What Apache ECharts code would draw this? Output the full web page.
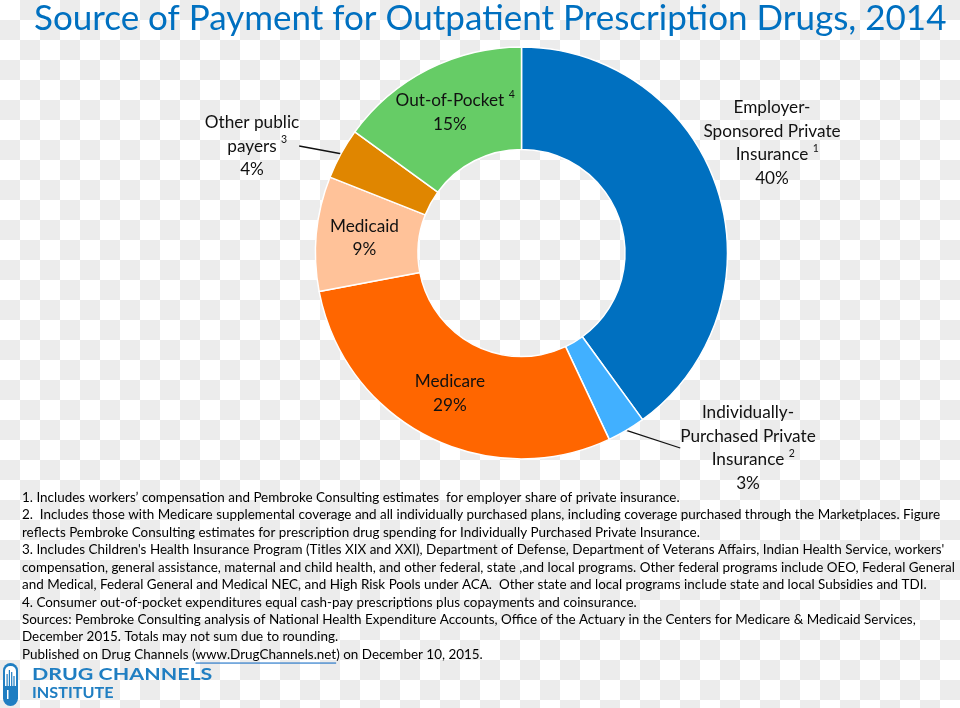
<!DOCTYPE html>
<html>
<head>
<meta charset="utf-8">
<script src="https://cdn.jsdelivr.net/npm/echarts@6/dist/echarts.min.js"></script>
<style>
  html, body { margin: 0; padding: 0; width: 960px; height: 708px; overflow: hidden; }
  body {
    background-color: #ffffff;
    background-image: conic-gradient(#ececec 25%, transparent 0 50%, #ececec 0 75%, transparent 0);
    background-size: 40px 40px;
  }
  #chart { width: 960px; height: 708px; }
</style>
</head>
<body>
<div id="chart"></div>
<script>
// ---- Data ----
const titleText = 'Source of Payment for Outpatient Prescription Drugs, 2014';
const categories = [
  'Employer-Sponsored Private Insurance',
  'Individually-Purchased Private Insurance',
  'Medicare',
  'Medicaid',
  'Other public payers',
  'Out-of-Pocket'
];
const values = [40, 3, 29, 9, 4, 15];
const labelLines = [
  ['Employer-', 'Sponsored Private', 'Insurance'],
  ['Individually-', 'Purchased Private', 'Insurance'],
  ['Medicare'],
  ['Medicaid'],
  ['Other public', 'payers'],
  ['Out-of-Pocket']
];
const noteMarks = ['1', '2', '', '', '3', '4'];
const sliceColors = ['#0070C0', '#41B0FF', '#FF6600', '#FFC299', '#E08600', '#66CC66'];
const labelPlacement = ['outside', 'outside', 'inside', 'inside', 'outside', 'inside'];
const footnotes = [
  '1. Includes workers\u2019 compensation and Pembroke Consulting estimates  for employer share of private insurance.',
  '2.  Includes those with Medicare supplemental coverage and all individually purchased plans, including coverage purchased through the Marketplaces. Figure',
  'reflects Pembroke Consulting estimates for prescription drug spending for Individually Purchased Private Insurance.',
  '3. Includes Children\'s Health Insurance Program (Titles XIX and XXI), Department of Defense, Department of Veterans Affairs, Indian Health Service, workers\'',
  'compensation, general assistance, maternal and child health, and other federal, state ,and local programs. Other federal programs include OEO, Federal General',
  'and Medical, Federal General and Medical NEC, and High Risk Pools under ACA.  Other state and local programs include state and local Subsidies and TDI.',
  '4. Consumer out-of-pocket expenditures equal cash-pay prescriptions plus copayments and coinsurance.',
  'Sources: Pembroke Consulting analysis of National Health Expenditure Accounts, Office of the Actuary in the Centers for Medicare & Medicaid Services,',
  'December 2015. Totals may not sum due to rounding.'
];
const publishedPre = 'Published on Drug Channels (';
const publishedLink = 'www.DrugChannels.net';
const publishedPost = ') on December 10, 2015.';

// ---- Layout (positions for outside labels) ----
const outsideLabelPos = {
  0: { x: 772, y: 143 },
  1: { x: 748, y: 448 },
  4: { x: 252, y: 146 }
};

const FONT = 'Lato';
const labelFontSize = 17.2;
const supFontSize = 10.5;
const noteFontSize = 13.45;
const noteLineHeight = 17.45;
const noteLeft = 22;
const noteTop = 491;

function measure(text, font) {
  const c = document.createElement('canvas').getContext('2d');
  c.font = font;
  return c.measureText(text).width;
}

const chart = echarts.init(document.getElementById('chart'), null, { renderer: 'canvas' });

const pieData = categories.map((name, i) => ({
  name: name,
  value: values[i],
  itemStyle: { color: sliceColors[i] },
  label: { position: labelPlacement[i] },
  labelLine: { show: labelPlacement[i] === 'outside' && i !== 0 }
}));

function labelFormatter(params) {
  const i = params.dataIndex;
  const lines = labelLines[i].map(l => '{t|' + l + '}');
  const mark = noteMarks[i];
  if (mark) {
    lines[lines.length - 1] = '{p| }' + lines[lines.length - 1] + '{t| }{s|' + mark + '}';
  }
  lines.push('{t|' + values[i] + '%}');
  return lines.join('\n');
}

const padW = measure(' ', labelFontSize + 'px ' + FONT) + measure('4', supFontSize + 'px ' + FONT);

const noteFont = noteFontSize + 'px ' + FONT;
const linkX = noteLeft + measure(publishedPre, noteFont);
const linkW = measure(publishedLink, noteFont);
const lastLineTop = noteTop + footnotes.length * noteLineHeight;

const noteRich = footnotes.map(l => '{a|' + l + '}').join('\n') +
  '\n{a|' + publishedPre + '}{b|' + publishedLink + '}{a|' + publishedPost + '}';

const option = {
  animation: false,
  title: {
    text: titleText,
    left: 29,
    top: -4,
    textStyle: { fontFamily: FONT, fontSize: 35, fontWeight: 'normal', color: '#0070C0' }
  },
  series: [{
    type: 'pie',
    center: [521.5, 253],
    radius: [103.5, 206],
    startAngle: 90,
    clockwise: true,
    data: pieData,
    itemStyle: { borderColor: '#ffffff', borderWidth: 1.5 },
    label: {
      show: true,
      formatter: labelFormatter,
      align: 'center',
      rich: {
        t: { fontFamily: FONT, fontSize: labelFontSize, lineHeight: 23.5, color: '#111111' },
        p: { fontFamily: FONT, fontSize: labelFontSize, lineHeight: 23.5, width: padW, color: 'rgba(0,0,0,0)' },
        s: { fontFamily: FONT, fontSize: supFontSize, lineHeight: 12, verticalAlign: 'top', color: '#111111' }
      }
    },
    labelLine: {
      length: 10,
      length2: 0,
      smooth: false,
      lineStyle: { color: '#111111', width: 1.3 }
    },
    labelLayout: function (params) {
      const p = outsideLabelPos[params.dataIndex];
      if (!p) return {};
      return { x: p.x, y: p.y, align: 'center', verticalAlign: 'middle' };
    },
    emphasis: { disabled: true }
  }],
  graphic: [
    {
      type: 'text',
      left: noteLeft,
      top: noteTop,
      style: {
        text: noteRich,
        rich: {
          a: { fontFamily: FONT, fontSize: noteFontSize, lineHeight: noteLineHeight, color: '#111111' },
          b: { fontFamily: FONT, fontSize: noteFontSize, lineHeight: noteLineHeight, color: '#0563C1' }
        }
      }
    },
    {
      type: 'line',
      shape: { x1: linkX, y1: lastLineTop + 15, x2: linkX + linkW, y2: lastLineTop + 15 },
      style: { stroke: '#0563C1', lineWidth: 1 }
    },
    {
      type: 'rect',
      shape: { x: 3, y: 663, width: 15, height: 43, r: 7.5 },
      style: { fill: '#1F7EC2' }
    },
    {
      type: 'rect',
      shape: { x: 5, y: 666, width: 11, height: 20, r: [5, 5, 0, 0] },
      style: { fill: '#ffffff' }
    },
    { type: 'rect', shape: { x: 6.5, y: 674, width: 1.2, height: 12 }, style: { fill: '#1F7EC2' } },
    { type: 'rect', shape: { x: 8.8, y: 670, width: 1.2, height: 16 }, style: { fill: '#1F7EC2' } },
    { type: 'rect', shape: { x: 11.1, y: 672, width: 1.2, height: 14 }, style: { fill: '#1F7EC2' } },
    { type: 'rect', shape: { x: 13.4, y: 676, width: 1.2, height: 10 }, style: { fill: '#1F7EC2' } },
    { type: 'rect', shape: { x: 7, y: 690, width: 1.5, height: 9 }, style: { fill: '#ffffff' } },
    {
      type: 'text',
      left: 32,
      top: 666,
      scaleX: 1.26,
      style: { text: 'DRUG CHANNELS', font: 'bold 17px ' + FONT, fill: '#1F7EC2' }
    },
    {
      type: 'text',
      left: 32,
      top: 686,
      scaleX: 1.08,
      style: { text: 'INSTITUTE', font: 'bold 15px ' + FONT, fill: '#1F7EC2' }
    }
  ]
};

chart.setOption(option);
</script>
</body>
</html>
